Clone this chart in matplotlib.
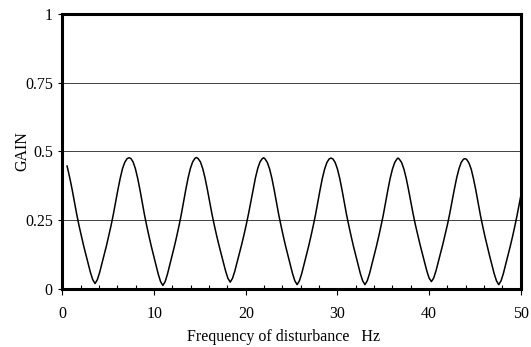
import matplotlib
matplotlib.use('Agg')
import matplotlib.pyplot as plt
from matplotlib.ticker import MultipleLocator

# gain (Hz, gain), one line per half wave
freq = [0.5, 0.8, 1.05, 1.3, 1.55, 1.8, 2.05, 2.3, 2.55, 2.8, 3.05, 3.3, 3.55,
        3.8, 4.05, 4.3, 4.55, 4.8, 5.05, 5.3, 5.55, 5.8, 6.05, 6.3, 6.55, 6.8, 7.05, 7.25,
        7.45, 7.7, 7.95, 8.2, 8.45, 8.7, 8.95, 9.2, 9.45, 9.7, 9.95, 10.2, 10.45, 10.7, 10.95,
        11.2, 11.45, 11.7, 11.95, 12.2, 12.45, 12.7, 12.95, 13.2, 13.45, 13.7, 13.95, 14.2, 14.45, 14.62,
        14.8, 15.05, 15.3, 15.55, 15.8, 16.05, 16.3, 16.55, 16.8, 17.05, 17.3, 17.55, 17.8, 18.05, 18.3,
        18.55, 18.8, 19.05, 19.3, 19.55, 19.8, 20.05, 20.3, 20.55, 20.8, 21.05, 21.3, 21.55, 21.8, 21.95,
        22.1, 22.35, 22.6, 22.85, 23.1, 23.35, 23.6, 23.85, 24.1, 24.35, 24.6, 24.85, 25.1, 25.35, 25.6,
        25.85, 26.1, 26.35, 26.6, 26.85, 27.1, 27.35, 27.6, 27.85, 28.1, 28.35, 28.6, 28.85, 29.1, 29.3,
        29.5, 29.75, 30.0, 30.25, 30.5, 30.75, 31.0, 31.25, 31.5, 31.75, 32.0, 32.25, 32.5, 32.75, 33.0,
        33.25, 33.5, 33.75, 34.0, 34.25, 34.5, 34.75, 35.0, 35.25, 35.5, 35.75, 36.0, 36.25, 36.5, 36.62,
        36.75, 37.0, 37.25, 37.5, 37.75, 38.0, 38.25, 38.5, 38.75, 39.0, 39.25, 39.5, 39.75, 40.0, 40.25,
        40.5, 40.75, 41.0, 41.25, 41.5, 41.75, 42.0, 42.25, 42.5, 42.75, 43.0, 43.25, 43.5, 43.75, 43.92,
        44.1, 44.35, 44.6, 44.85, 45.1, 45.35, 45.6, 45.85, 46.1, 46.35, 46.6, 46.85, 47.1, 47.35, 47.6,
        47.85, 48.1, 48.35, 48.6, 48.85, 49.1, 49.35, 49.6, 49.85, 50.0]
gain = [.447, .403, .362, .317, .272, .231, .194, .158, .125, .093, .060, .034, .020,
        .034, .060, .093, .125, .158, .194, .231, .272, .317, .362, .403, .438, .461, .474, .477,
        .475, .462, .438, .403, .361, .315, .269, .228, .190, .154, .120, .087, .054, .027, .013,
        .027, .054, .087, .120, .154, .190, .228, .269, .315, .361, .403, .438, .462, .475, .478,
        .474, .462, .438, .404, .363, .318, .274, .234, .197, .162, .129, .097, .065, .039, .025,
        .039, .065, .097, .129, .162, .197, .234, .274, .318, .363, .404, .438, .462, .474, .477,
        .473, .460, .436, .402, .360, .315, .269, .229, .191, .155, .122, .089, .056, .030, .016,
        .030, .056, .089, .122, .155, .191, .229, .269, .315, .360, .402, .436, .460, .473, .476,
        .473, .460, .436, .402, .360, .315, .269, .229, .191, .155, .122, .089, .056, .030, .016,
        .030, .056, .089, .122, .155, .191, .229, .269, .315, .360, .402, .436, .460, .473, .476,
        .472, .460, .436, .403, .362, .318, .274, .234, .198, .163, .130, .098, .066, .040, .027,
        .040, .066, .098, .130, .163, .198, .234, .274, .318, .362, .403, .436, .460, .472, .474,
        .471, .458, .435, .400, .359, .313, .268, .228, .190, .155, .121, .089, .056, .030, .016,
        .030, .056, .089, .121, .155, .190, .228, .268, .313, .338]

yticks = [0, 0.25, 0.5, 0.75, 1]
ytick_labels = ['0', '0.25', '0.5', '0.75', '1']
xticks = [0, 10, 20, 30, 40, 50]

plt.rcParams['font.family'] = ['Liberation Serif', 'DejaVu Serif']
plt.rcParams['font.size'] = 11.5

fig = plt.figure(figsize=(5.31, 3.47), dpi=100)
ax = fig.add_axes([0.1177, 0.167, 0.863, 0.793])

for y in yticks[1:]:
    ax.axhline(y, color='#404040', lw=0.7, zorder=1)

ax.plot(freq, gain, color='black', lw=1.1, zorder=3)

ax.set_xlim(0, 50)
ax.set_ylim(0, 1)
ax.set_xticks(xticks)
ax.xaxis.set_minor_locator(MultipleLocator(2))
ax.set_yticks(yticks)
ax.set_yticklabels(ytick_labels)

ax.tick_params(axis='x', which='major', direction='out', length=4, width=0.8, pad=8)
ax.tick_params(axis='x', which='minor', direction='in', length=3, width=0.8)
ax.tick_params(axis='y', which='major', direction='out', length=3, width=0.8, pad=4)

for s in ax.spines.values():
    s.set_linewidth(2.2)
    s.set_zorder(4)

ax.set_xlabel('Frequency of disturbance   Hz', labelpad=5)
ax.xaxis.label.set_x(0.483)
ax.set_ylabel('GAIN')
ax.yaxis.set_label_coords(-0.07, 0.5)

fig.savefig('out.png', dpi=100)
